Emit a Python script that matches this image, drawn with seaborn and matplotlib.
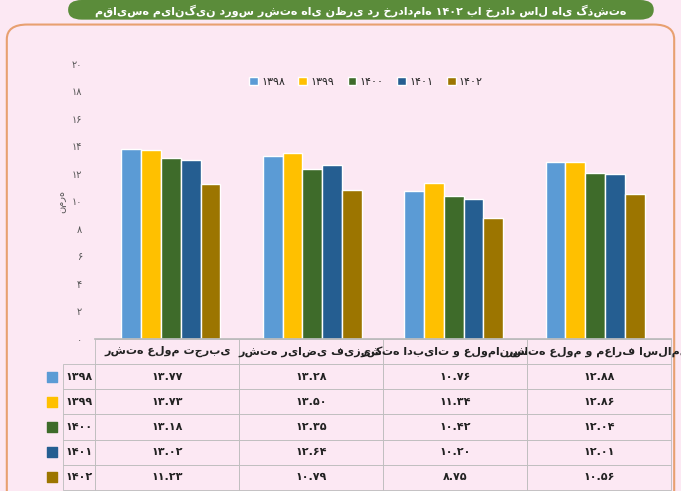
import matplotlib
matplotlib.use("Agg")
import matplotlib.pyplot as plt
import seaborn as sns
import pandas as pd
from matplotlib.patches import FancyBboxPatch

categories = ["رشته علوم تجربی", "رشته ریاضی فیزیک", "رشته ادبیات و علوم‌انسانی", "رشته علوم و معارف اسلامی"]
years = ["۱۳۹۸", "۱۳۹۹", "۱۴۰۰", "۱۴۰۱", "۱۴۰۲"]
v1398 = [13.77, 13.28, 10.76, 12.88]
v1399 = [13.73, 13.50, 11.34, 12.86]
v1400 = [13.18, 12.35, 10.42, 12.04]
v1401 = [13.02, 12.64, 10.20, 12.01]
v1402 = [11.23, 10.79, 8.75, 10.56]
series = [v1398, v1399, v1400, v1401, v1402]
colors = ["#5b9bd5", "#ffc000", "#3e6b2a", "#255e91", "#9c7500"]
title = "مقایسه میانگین دروس رشته های نظری در خردادماه ۱۴۰۲ با خرداد سال های گذشته"

def fa(s):
    return s.translate(str.maketrans("0123456789.", "۰۱۲۳۴۵۶۷۸۹."))

sns.set_theme(style="white")
plt.rcParams['font.family'] = ['DejaVu Sans']

rows = []
for y, vals in zip(years, series):
    for c, v in zip(categories, vals):
        rows.append({"cat": c, "year": y, "val": v})
df = pd.DataFrame(rows)

bg = "#fce8f3"
fig = plt.figure(figsize=(6.81, 4.91), dpi=100, facecolor=bg)
p1 = FancyBboxPatch((0.01, -0.05), 0.98, 1.0, boxstyle="round,pad=0,rounding_size=0.03",
                    transform=fig.transFigure, fc=bg, ec="#e8a070", lw=1.5, zorder=-10)
p2 = FancyBboxPatch((0.1, 0.96), 0.86, 0.04, boxstyle="round,pad=0,rounding_size=0.02",
                    transform=fig.transFigure, fc="#5b8c3a", ec="none", zorder=-5)
fig.patches.extend([p1, p2])
fig.text(0.53, 0.978, title, color="white", ha="center", va="center", fontsize=8, fontweight="bold")

ax = fig.add_axes([0.14, 0.31, 0.845, 0.56])
ax.set_zorder(5)
ax.set_facecolor("none")
sns.barplot(data=df, x="cat", y="val", hue="year", palette=colors, ax=ax, width=0.7, saturation=1)
ax.set_ylim(0, 20)
ax.set_yticks(range(0, 21, 2))
ax.set_yticklabels([fa(str(t)) for t in range(0, 21, 2)], fontsize=7, color="#555")
ax.set_xticks([])
ax.set_xlabel("")
ax.set_ylabel("نمره", fontsize=7, color="#555")
for s in ["top", "right", "left"]:
    ax.spines[s].set_visible(False)
ax.spines["bottom"].set_color("#bbb")
ax.legend(loc="upper center", bbox_to_anchor=(0.47, 0.99), ncol=5, frameon=False, fontsize=8,
          handlelength=0.8, handletextpad=0.3, columnspacing=1.2)

cell = [[fa(f"{v:.2f}") for v in vals] for vals in series]
tab = ax.table(cellText=cell, rowLabels=years, colLabels=categories,
               cellLoc="center", bbox=[0, -0.55, 1, 0.55])
tab.auto_set_font_size(False)
tab.set_fontsize(8)
for (r, c), cl in tab.get_celld().items():
    cl.set_facecolor(bg)
    cl.set_edgecolor("#bbb")
    cl.set_linewidth(0.6)
    cl.get_text().set_fontweight("bold")
    cl.get_text().set_color("#222")

# colour keys for table row labels
for i, col in enumerate(colors):
    yc = -0.55 + 0.55 * (5 - i - 0.5) / 6
    ax.scatter([-0.075], [yc], marker="s", s=45, color=col, transform=ax.transAxes, clip_on=False, zorder=10)

fig.savefig("out.png", dpi=100, facecolor=bg)
